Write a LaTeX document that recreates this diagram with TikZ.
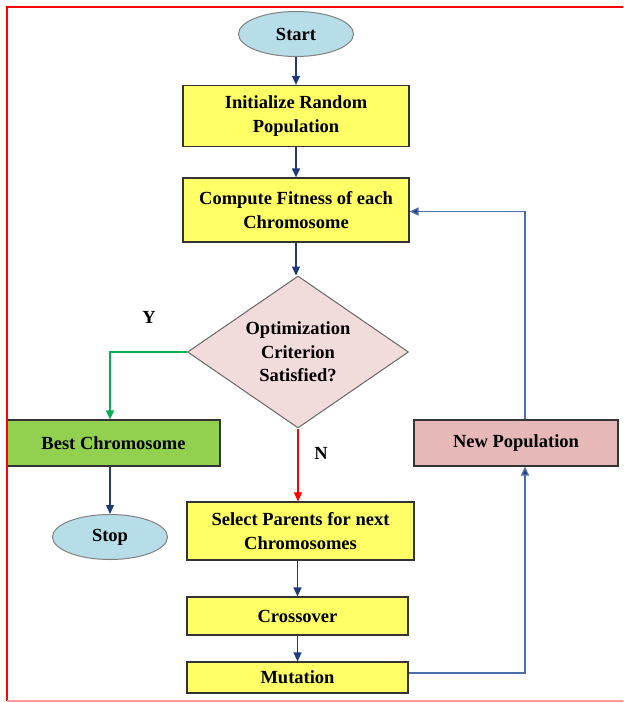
\documentclass[tikz,border=0pt]{standalone}
\usepackage{fontspec}
\setmainfont{Liberation Serif}
\usetikzlibrary{arrows.meta,shapes.geometric,positioning}

\definecolor{procyellow}{HTML}{FFFF66}
\definecolor{termblue}{HTML}{B7DEE8}
\definecolor{decpink}{HTML}{F2DCDB}
\definecolor{bestgreen}{HTML}{92D050}
\definecolor{newpink}{HTML}{E6B9B8}
\definecolor{navy}{HTML}{1F3A78}
\definecolor{loopblue}{HTML}{4A6EAA}
\definecolor{yesgreen}{HTML}{00B050}

\begin{document}
\begin{tikzpicture}[x=1pt,y=-1pt,>={Triangle[length=9pt,width=8pt]},
    every node/.style={font=\bfseries\fontsize{18.5}{23.5}\selectfont,align=center,inner sep=0pt},
    proc/.style={rectangle,draw=black!80,line width=1.2pt,fill=procyellow,minimum width=221pt},
    term/.style={ellipse,draw=black!50,line width=1pt,fill=termblue,minimum width=115pt,minimum height=45pt},
    decision/.style={diamond,aspect=1.45,draw=black!60,line width=1pt,fill=decpink,minimum width=221pt,minimum height=152pt},
    flow/.style={->,navy,line width=1.4pt},
    yes/.style={->,yesgreen,line width=1.2pt},
    no/.style={->,red,line width=1.2pt},
    back/.style={loopblue,line width=1.4pt,-{Triangle[length=9pt,width=8pt,fill=navy]}}]

    \useasboundingbox (0,0) rectangle (623,703);

    \node[term]                 (start)  at (296,34)    {Start};
    \node[proc, minimum width=226pt, minimum height=61pt]
                                (init)   [below of=start, node distance=82pt]  {Initialize Random\\Population};
    \node[proc, minimum width=226pt, minimum height=64pt]
                                (fit)    [below of=init, node distance=94pt]   {Compute Fitness of each\\Chromosome};
    \node[decision]             (dec)    [below of=fit, node distance=142pt, xshift=2pt] {Optimization\\Criterion\\Satisfied?};
    \node[proc, minimum width=227pt, minimum height=58pt]
                                (sel)    [below of=dec, node distance=179pt, xshift=2.5pt] {Select Parents for next\\Chromosomes};
    \node[proc, minimum height=38pt]
                                (cross)  [below of=sel, node distance=85pt, xshift=-3pt] {Crossover};
    \node[proc, minimum height=31pt]
                                (mut)    [below of=cross, node distance=61.5pt] {Mutation};

    \node[proc, fill=bestgreen, minimum width=213pt, minimum height=46pt]
                                (best)   at (113.5,443) {Best Chromosome};
    \node[term]                 (stop)   at (110,537)   {Stop};
    \node[proc, fill=newpink, minimum width=204pt, minimum height=46pt]
                                (newpop) at (516,443)   {New Population};

    \node (ylab) at (149,317) {Y};
    \node (nlab) at (321,453) {N};

    % main column
    \draw[flow] (start) -- (start |- init.north);
    \draw[flow] (fit.north |- init.south) -- (fit.north);
    \draw[flow] (fit.south) -- (fit.south |- dec.north);
    \draw[flow] (cross.north |- sel.south) -- (cross.north);
    \draw[flow] (cross) -- (mut);

    % decision branches
    \draw[yes] (dec.west) -| (stop.north |- best.north);
    \draw[no]  (dec.south) -- (dec.south |- sel.north);
    \draw[flow] (stop.north |- best.south) -- (stop.north);

    % loop back
    \draw[back] ([yshift=4.5pt]mut.east) -| ([xshift=9pt]newpop.south);
    \draw[back] ([xshift=9pt]newpop.north) |- ([yshift=-1.5pt]fit.east);

    % frame
    \draw[red, line width=2pt] (623,7) -- (7,7) -- (7,701);
    \draw[red!40, line width=2pt] (7,701) -- (623,701);
\end{tikzpicture}
\end{document}
